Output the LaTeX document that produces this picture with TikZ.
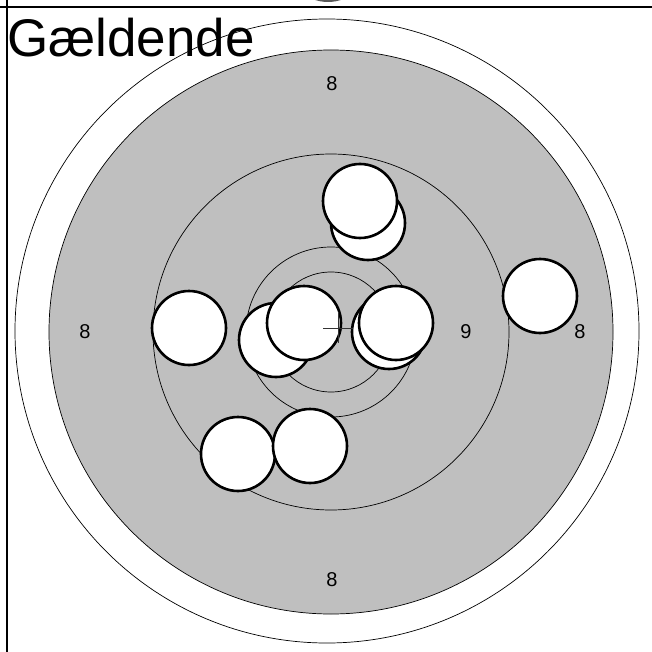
\documentclass[tikz,border=0pt]{standalone}
\usepackage{fontspec}
\setmainfont{Liberation Sans}
\begin{document}
\begin{tikzpicture}[x=1pt,y=-1pt,
  ring/.style={draw=black,line width=0.7pt},
  shot/.style={circle,draw=black,fill=white,line width=2.6pt,minimum size=74pt,inner sep=0pt},
  score/.style={font=\fontsize{20}{20}\selectfont,inner sep=0pt,anchor=center},
  frameline/.style={draw=black,line width=1.6pt}]
\useasboundingbox (0,0) rectangle (652,652);
% small arc at top
\begin{scope}
\clip (0,0) rectangle (652,6);
\fill[gray!70!black] (328,-40) circle (42);
\end{scope}
% frame
\coordinate (tl) at (0,7);
\coordinate (tr) at (652,7);
\coordinate (lt) at (7,0);
\coordinate (lb) at (7,652);
\draw[frameline] (tl) -- (tr);
\draw[frameline] (lt) -- (lb);
% target
\coordinate (c) at (331,332);
\draw[ring] (327,331) circle (312);
\filldraw[ring,fill=black!25] (c) circle (282);
\draw[ring] (c) circle (178);
\draw[ring] (c) circle (85);
\draw[ring] (c) circle (60);
% title
\node[anchor=base west,inner sep=0pt,font=\fontsize{53}{53}\selectfont] (title) at (7,57) {Gældende};
% scores
\node[score] (t8) at (332,84) {8};
\node[score] (l8) at (85,332) {8};
\node[score] (r8) at (580,332) {8};
\node[score] (b8) at (332,580) {8};
\node[score] (r9) at (466,332) {9};
% shots
\node[shot] (s1b) at (368,223) {};
\node[shot] (s1a) at (360,201) {};
\node[shot] (s2) at (540,296) {};
\node[shot] (s3) at (189,328) {};
\node[shot] (s4b) at (276,340) {};
\node[shot] (s4a) at (304,323) {};
\node[shot] (s5b) at (389,332) {};
\node[shot] (s5a) at (396,323) {};
\node[shot] (s6b) at (238,454) {};
\node[shot] (s6a) at (310,446) {};
% crosshair
\coordinate (hL) at (323,328);
\coordinate (hR) at (353,328);
\coordinate (vT) at (338,312);
\coordinate (vB) at (338,343);
\draw[line width=0.9pt,black!80] (hL) -- (hR);
\draw[line width=0.9pt,black!80] (vT) -- (vB);
\end{tikzpicture}
\end{document}
